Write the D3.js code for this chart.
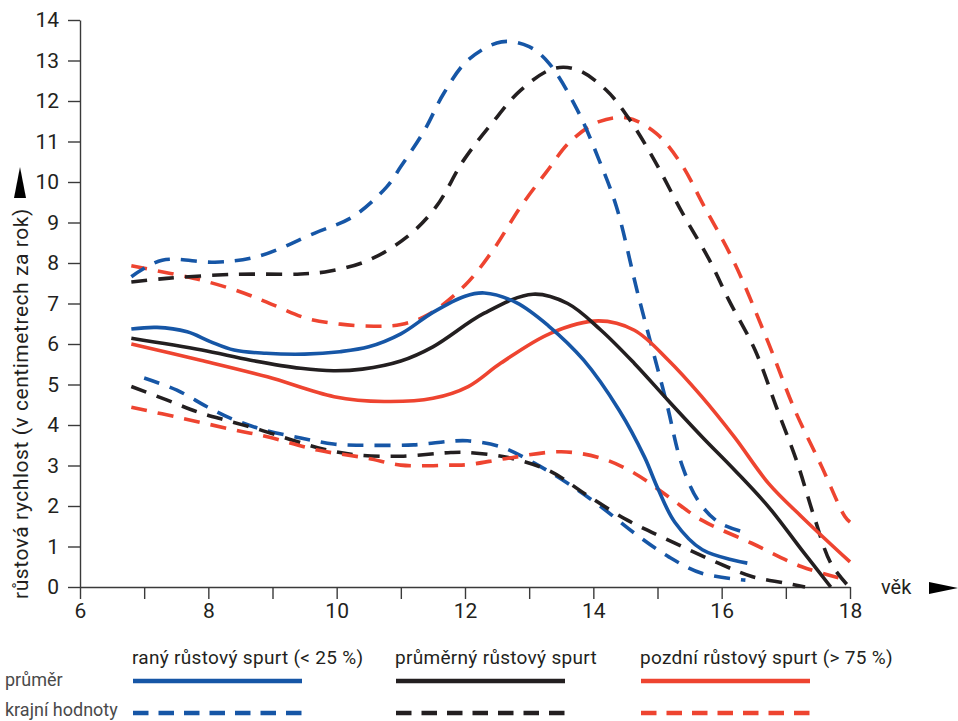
<!DOCTYPE html>
<html><head><meta charset="utf-8">
<script src="https://cdn.jsdelivr.net/npm/d3@7"></script>
<style>
body{margin:0;background:#fff;}
text{font-family:Roboto,"DejaVu Sans",sans-serif;fill:#231f20;}
</style></head>
<body><svg id="c" width="958" height="721"></svg>
<script>
// ---- data (age in years, growth velocity cm/year) ----
const earlyMeanAge = [6.8,7.2,7.67,8.03,8.4,8.9,9.5,10.05,10.5,11.0,11.5,12.0,12.3,12.8,13.3,13.85,14.4,14.8,15.0,15.27,15.7,16.4];
const earlyMeanVal = [6.37,6.41,6.30,6.06,5.85,5.77,5.75,5.81,5.93,6.25,6.78,7.18,7.26,7.02,6.45,5.6,4.37,3.2,2.45,1.6,0.92,0.59];
const avgMeanAge = [6.8,7.9,8.66,9.44,9.95,10.4,11.0,11.5,12.3,13.06,13.6,14.12,14.64,15.17,15.7,16.2,16.73,17.25,17.7];
const avgMeanVal = [6.14,5.85,5.6,5.4,5.34,5.38,5.58,5.93,6.76,7.23,7.0,6.34,5.52,4.6,3.7,2.89,1.98,0.91,0.0];
const lateMeanAge = [6.8,7.88,8.92,9.96,10.74,11.5,12.05,12.56,13.34,14.08,14.64,15.17,15.69,16.2,16.73,17.25,18.0];
const lateMeanVal = [6.0,5.6,5.19,4.7,4.58,4.66,4.95,5.53,6.27,6.57,6.34,5.6,4.7,3.7,2.56,1.73,0.62];

const earlyMaxAge = [6.8,7.28,8.1,8.77,9.66,10.25,10.78,11.0,11.37,11.67,12.04,12.57,13.0,13.31,13.75,14.09,14.36,14.7,15.13,15.39,15.66,15.97,16.4];
const earlyMaxVal = [7.66,8.07,8.02,8.16,8.74,9.14,9.88,10.38,11.28,12.19,13.0,13.46,13.34,12.93,11.78,10.54,9.39,7.2,4.62,2.97,2.07,1.58,1.33];
const avgMaxAge = [6.8,7.35,8.4,9.44,9.9,10.5,11.1,11.55,11.98,12.42,12.87,13.38,13.75,14.2,14.57,14.95,15.39,15.8,16.11,16.52,16.87,17.18,17.44,17.7,17.96];
const avgMaxVal = [7.53,7.62,7.72,7.73,7.8,8.07,8.65,9.39,10.54,11.45,12.27,12.8,12.77,12.27,11.53,10.54,9.23,8.1,7.09,5.85,4.37,3.06,1.74,0.59,0.05];
const lateMaxAge = [6.8,7.88,8.55,9.02,9.54,10.06,10.58,11.0,11.42,12.0,12.45,12.85,13.27,13.64,14.09,14.53,14.98,15.36,15.73,16.2,16.73,17.14,17.56,17.92,18.0];
const lateMaxVal = [7.93,7.58,7.26,6.96,6.63,6.49,6.44,6.48,6.72,7.45,8.35,9.35,10.25,11.0,11.49,11.58,11.2,10.47,9.39,8.0,6.02,4.37,2.97,1.74,1.6];

const earlyMinAge = [7.0,7.51,7.98,8.34,8.86,9.44,9.95,10.48,11.2,11.78,12.04,12.56,13.08,13.6,14.12,14.64,15.17,15.69,16.37];
const earlyMinVal = [5.16,4.86,4.45,4.17,3.88,3.68,3.53,3.5,3.51,3.6,3.61,3.46,3.06,2.56,1.98,1.33,0.75,0.34,0.17];
const avgMinAge = [6.8,7.35,7.82,8.29,8.81,9.3,9.8,10.32,11.0,11.78,12.04,12.72,13.34,13.86,14.53,15.17,15.95,16.47,16.98,17.3];
const avgMinVal = [4.95,4.62,4.33,4.11,3.88,3.63,3.4,3.26,3.23,3.32,3.32,3.18,2.85,2.31,1.65,1.16,0.59,0.26,0.1,0.0];
const lateMinAge = [6.8,7.61,8.4,8.92,9.7,10.48,11.0,11.78,12.04,12.67,13.5,14.12,14.64,15.17,15.69,16.47,17.25,17.96];
const lateMinVal = [4.44,4.16,3.88,3.71,3.38,3.18,3.01,3.01,3.02,3.18,3.34,3.18,2.81,2.23,1.65,1.08,0.5,0.17];

const xTicks = [6,7,8,9,10,11,12,13,14,15,16,17,18];
const xTickLabels = [6,8,10,12,14,16,18];
const yTicks = [0,1,2,3,4,5,6,7,8,9,10,11,12,13,14];
const groupNames = ["raný růstový spurt (< 25 %)","průměrný růstový spurt","pozdní růstový spurt (> 75 %)"];
const rowNames = ["průměr","krajní hodnoty"];
const xTitle = "věk";
const yTitle = "růstová rychlost (v centimetrech za rok)";

// ---- drawing ----
const colors = ["#1656a6","#231f20","#ee4430"];
const svg = d3.select("#c");
const x = d3.scaleLinear().domain([6,18]).range([80,850]);
const y = d3.scaleLinear().domain([0,14]).range([587,20]);
const axisColor = "#3a3a3a";

// y axis
const ya = svg.append("g").attr("transform","translate(80,0)")
  .call(d3.axisLeft(y).tickValues(yTicks).tickSize(12).tickPadding(9).tickSizeOuter(0));
// x axis
const xa = svg.append("g").attr("transform","translate(0,587)")
  .call(d3.axisBottom(x).tickValues(xTicks).tickSize(12).tickPadding(4).tickSizeOuter(0)
    .tickFormat(d => xTickLabels.includes(d) ? d : ""));
[ya,xa].forEach(g=>{
  g.selectAll("path,line").attr("stroke",axisColor).attr("stroke-width",1.4);
  g.selectAll("text").attr("font-size",21).style("font-family","Roboto,sans-serif").attr("fill","#231f20");
});

// curves
const line = d3.line().x(d=>x(d[0])).y(d=>y(d[1])).curve(d3.curveCatmullRom.alpha(0.5));
const zip = (a,b)=>a.map((v,i)=>[v,b[i]]);
const series = [
  {a:earlyMinAge,v:earlyMinVal,c:0,dash:true},
  {a:avgMinAge,v:avgMinVal,c:1,dash:true},
  {a:lateMinAge,v:lateMinVal,c:2,dash:true},
  {a:lateMaxAge,v:lateMaxVal,c:2,dash:true},
  {a:avgMaxAge,v:avgMaxVal,c:1,dash:true},
  {a:earlyMaxAge,v:earlyMaxVal,c:0,dash:true},
  {a:lateMeanAge,v:lateMeanVal,c:2,dash:false},
  {a:avgMeanAge,v:avgMeanVal,c:1,dash:false},
  {a:earlyMeanAge,v:earlyMeanVal,c:0,dash:false},
];
series.forEach(s=>{
  svg.append("path").attr("d",line(zip(s.a,s.v)))
    .attr("fill","none").attr("stroke",colors[s.c]).attr("stroke-width",3.6)
    .attr("stroke-dasharray",s.dash?"16,11":null);
});

// axis titles and arrows
svg.append("text").attr("transform","translate(28,599) rotate(-90)")
  .attr("font-size",21).attr("letter-spacing",0.55).text(yTitle);
svg.append("path").attr("d","M20,167 L26,198 L14,198 Z").attr("fill","#000");
svg.append("text").attr("x",881).attr("y",594).attr("font-size",20).text(xTitle);
svg.append("path").attr("d","M929,582 L958,588 L929,594 Z").attr("fill","#000");

// legend
const lgX = [133,396,641], lgW = 169;
groupNames.forEach((n,i)=>{
  svg.append("text").attr("x",lgX[i]-1).attr("y",664).attr("font-size",19).attr("letter-spacing",0.3).text(n);
  svg.append("line").attr("x1",lgX[i]).attr("x2",lgX[i]+lgW).attr("y1",681).attr("y2",681)
    .attr("stroke",colors[i]).attr("stroke-width",4.5);
  svg.append("line").attr("x1",lgX[i]).attr("x2",lgX[i]+lgW).attr("y1",713).attr("y2",713)
    .attr("stroke",colors[i]).attr("stroke-width",4.5).attr("stroke-dasharray","15.5,10");
});
svg.append("text").attr("x",5).attr("y",686).attr("font-size",18).style("fill","#4a4a4a").text(rowNames[0]);
svg.append("text").attr("x",5).attr("y",716).attr("font-size",18).style("fill","#4a4a4a").text(rowNames[1]);
</script></body></html>
